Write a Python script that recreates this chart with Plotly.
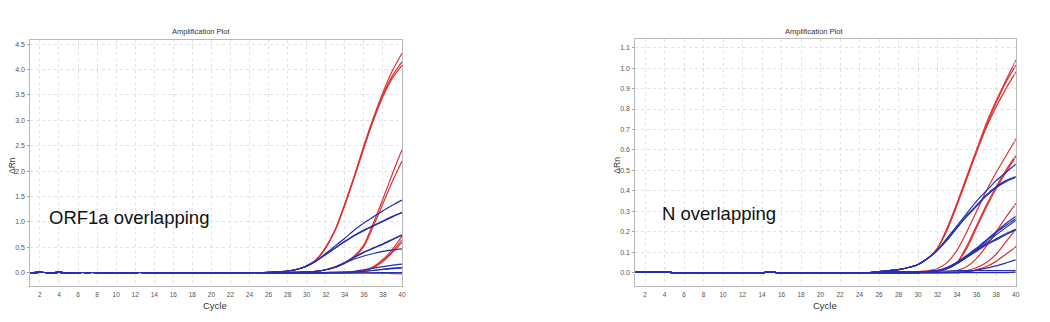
import plotly.graph_objects as go

# ---- data -------------------------------------------------------------
cycles_base = list(range(1, 26))          # flat baseline region
cycles_tail = list(range(26, 41))         # amplification region (cycles 26..40)

# ORF1a assay: baseline readings, then per-curve tails (cycles 26..40)
orf_base = [0.005, 0.01, 0.0, 0.01, 0.0, 0.005, 0.005, 0.005, 0.0, 0.0,
            0.0, 0.005, 0.005, 0.005, 0.005, 0.005, 0.005, 0.005, 0.005, 0.005,
            0.005, 0.005, 0.005, 0.005, 0.005]
orf_red = [
    [0.01, 0.02, 0.035, 0.07, 0.14, 0.26, 0.5, 0.85, 1.35, 1.9, 2.5, 3.05, 3.55, 3.98, 4.32],
    [0.01, 0.02, 0.035, 0.07, 0.14, 0.26, 0.5, 0.85, 1.35, 1.9, 2.48, 3.02, 3.5, 3.88, 4.15],
    [0.01, 0.02, 0.035, 0.07, 0.14, 0.25, 0.49, 0.84, 1.33, 1.88, 2.45, 3.0, 3.47, 3.83, 4.08],
    [0.0, 0.0, 0.005, 0.01, 0.02, 0.03, 0.06, 0.12, 0.2, 0.33, 0.55, 0.98, 1.45, 1.95, 2.42],
    [0.0, 0.0, 0.005, 0.01, 0.02, 0.03, 0.06, 0.11, 0.19, 0.31, 0.52, 0.92, 1.36, 1.8, 2.2],
    [0.0, 0.0, 0.0, 0.0, 0.0, 0.0, 0.005, 0.01, 0.015, 0.02, 0.05, 0.12, 0.26, 0.46, 0.72],
    [0.0, 0.0, 0.0, 0.0, 0.0, 0.0, 0.005, 0.01, 0.015, 0.02, 0.045, 0.11, 0.24, 0.42, 0.65],
    [0.0, 0.0, 0.0, 0.0, 0.0, 0.0, 0.005, 0.01, 0.015, 0.02, 0.04, 0.1, 0.22, 0.4, 0.6],
    [0.0, 0.0, 0.0, 0.0, 0.0, 0.0, 0.0, 0.0, 0.0, 0.0, 0.0, -0.005, -0.01, -0.015, -0.02],
]
orf_blue = [
    [0.01, 0.02, 0.035, 0.07, 0.13, 0.24, 0.38, 0.53, 0.68, 0.84, 0.98, 1.1, 1.22, 1.33, 1.43],
    [0.01, 0.02, 0.035, 0.07, 0.13, 0.23, 0.36, 0.49, 0.62, 0.74, 0.84, 0.93, 1.02, 1.11, 1.19],
    [0.01, 0.02, 0.035, 0.07, 0.13, 0.23, 0.36, 0.49, 0.61, 0.73, 0.83, 0.92, 1.01, 1.1, 1.18],
    [0.0, 0.0, 0.005, 0.01, 0.02, 0.03, 0.06, 0.11, 0.2, 0.31, 0.41, 0.49, 0.57, 0.66, 0.75],
    [0.0, 0.0, 0.005, 0.01, 0.02, 0.03, 0.06, 0.11, 0.2, 0.3, 0.4, 0.48, 0.56, 0.65, 0.74],
    [0.0, 0.0, 0.005, 0.01, 0.02, 0.03, 0.06, 0.11, 0.19, 0.27, 0.33, 0.38, 0.42, 0.45, 0.47],
    [0.0, 0.0, 0.0, 0.0, 0.0, 0.0, 0.005, 0.005, 0.01, 0.03, 0.06, 0.09, 0.12, 0.15, 0.17],
    [0.0, 0.0, 0.0, 0.0, 0.0, 0.0, 0.0, 0.005, 0.005, 0.01, 0.03, 0.05, 0.07, 0.09, 0.1],
    [0.0, 0.0, 0.0, 0.0, 0.0, 0.0, 0.0, 0.005, 0.005, 0.01, 0.025, 0.045, 0.065, 0.08, 0.095],
    [0.0, 0.0, 0.0, 0.0, 0.0, 0.0, 0.0, 0.0, 0.0, 0.0, 0.0, 0.0, 0.005, 0.005, 0.005],
]

# N assay
n_base = [0.002, 0.002, 0.002, 0.002, 0.0, 0.0, 0.0, 0.0, 0.0, 0.0,
          0.0, 0.0, 0.0, 0.0, 0.003, -0.003, 0.0, 0.0, 0.0, 0.0,
          0.0, 0.0, 0.0, 0.0, 0.0]
n_red = [
    [0.005, 0.01, 0.015, 0.025, 0.04, 0.07, 0.12, 0.22, 0.34, 0.47, 0.6, 0.73, 0.84, 0.94, 1.035],
    [0.005, 0.01, 0.015, 0.025, 0.04, 0.07, 0.12, 0.22, 0.34, 0.47, 0.6, 0.72, 0.83, 0.93, 1.012],
    [0.005, 0.01, 0.015, 0.025, 0.04, 0.07, 0.12, 0.21, 0.33, 0.46, 0.59, 0.71, 0.81, 0.9, 0.978],
    [0.0, 0.0, 0.0, 0.0, 0.005, 0.01, 0.02, 0.05, 0.11, 0.2, 0.3, 0.4, 0.49, 0.57, 0.65],
    [0.0, 0.0, 0.0, 0.0, 0.0, 0.005, 0.005, 0.02, 0.05, 0.13, 0.23, 0.33, 0.42, 0.5, 0.572],
    [0.0, 0.0, 0.0, 0.0, 0.0, 0.005, 0.005, 0.02, 0.05, 0.12, 0.22, 0.32, 0.41, 0.49, 0.565],
    [0.0, 0.0, 0.0, 0.0, 0.0, 0.0, 0.0, 0.005, 0.01, 0.03, 0.07, 0.13, 0.2, 0.27, 0.336],
    [0.0, 0.0, 0.0, 0.0, 0.0, 0.0, 0.0, 0.0, 0.005, 0.01, 0.025, 0.05, 0.09, 0.15, 0.21],
    [0.0, 0.0, 0.0, 0.0, 0.0, 0.0, 0.0, 0.0, 0.0, 0.005, 0.015, 0.03, 0.055, 0.09, 0.125],
]
n_blue = [
    [0.005, 0.01, 0.015, 0.025, 0.04, 0.07, 0.11, 0.17, 0.23, 0.29, 0.35, 0.4, 0.45, 0.49, 0.53],
    [0.005, 0.01, 0.015, 0.025, 0.04, 0.07, 0.11, 0.165, 0.22, 0.28, 0.33, 0.38, 0.42, 0.45, 0.47],
    [0.005, 0.01, 0.015, 0.025, 0.04, 0.07, 0.11, 0.16, 0.22, 0.275, 0.325, 0.375, 0.415, 0.445, 0.465],
    [0.0, 0.0, 0.0, 0.0, 0.0, 0.005, 0.01, 0.025, 0.05, 0.085, 0.12, 0.16, 0.2, 0.24, 0.274],
    [0.0, 0.0, 0.0, 0.0, 0.0, 0.005, 0.01, 0.025, 0.05, 0.08, 0.115, 0.155, 0.195, 0.23, 0.263],
    [0.0, 0.0, 0.0, 0.0, 0.0, 0.005, 0.01, 0.02, 0.045, 0.075, 0.11, 0.145, 0.185, 0.22, 0.255],
    [0.0, 0.0, 0.0, 0.0, 0.0, 0.005, 0.01, 0.025, 0.05, 0.08, 0.11, 0.14, 0.165, 0.19, 0.212],
    [0.0, 0.0, 0.0, 0.0, 0.0, 0.005, 0.01, 0.02, 0.045, 0.075, 0.105, 0.135, 0.16, 0.185, 0.208],
    [0.0, 0.0, 0.0, 0.0, 0.0, 0.0, 0.0, 0.0, 0.0, 0.005, 0.012, 0.022, 0.033, 0.047, 0.062],
    [0.005, 0.005, 0.005, 0.005, 0.005, 0.005, 0.008, 0.008, 0.01, 0.01, 0.01, 0.01, 0.01, 0.01, 0.01],
    [0.0, 0.0, 0.0, 0.0, 0.0, 0.0, 0.0, 0.0, 0.0, 0.0, 0.0, 0.0, 0.0, 0.0, 0.002],
]

x_ticks = list(range(2, 41, 2))
orf_y_ticks = [0.0, 0.5, 1.0, 1.5, 2.0, 2.5, 3.0, 3.5, 4.0, 4.5]
n_y_ticks = [0.0, 0.1, 0.2, 0.3, 0.4, 0.5, 0.6, 0.7, 0.8, 0.9, 1.0, 1.1]

RED = "#dc3232"
BLUE = "#2230b0"
NARROW = "Liberation Sans Narrow, Arial Narrow, Liberation Sans, Arial, sans-serif"
SANS = "Liberation Sans, Arial, Helvetica, sans-serif"
W, H = 1050, 322

fig = go.Figure()


def add_curves(base, tails, color, xa, ya, end_marker=False):
    x = cycles_base + cycles_tail
    for tail in tails:
        y = base + tail
        sizes = [0] * (len(x) - 1) + [3]
        fig.add_trace(go.Scatter(
            x=x, y=y, mode="lines+markers" if end_marker else "lines",
            line=dict(color=color, width=1.2, shape="spline", smoothing=0.6),
            marker=dict(size=sizes, color=color, symbol="square"),
            xaxis=xa, yaxis=ya, showlegend=False, hoverinfo="skip"))


add_curves(orf_base, orf_red, RED, "x", "y")
add_curves(orf_base, orf_blue, BLUE, "x", "y")
add_curves(n_base, n_red, RED, "x2", "y2", end_marker=True)
add_curves(n_base, n_blue, BLUE, "x2", "y2")

axis_common = dict(
    showline=True, linecolor="#b8b8b8", linewidth=1, mirror=True,
    showgrid=True, gridcolor="#e2e2e2", griddash="dot", gridwidth=1,
    zeroline=False,
)
x_style = dict(ticks="", ticklabelstandoff=2,
               tickfont=dict(family=NARROW, size=6.5, color="#555555"))
y_style = dict(ticks="outside", ticklen=2, tickcolor="#a0a0a0", ticklabelstandoff=1,
               tickfont=dict(family=NARROW, size=7, color="#555555"))


def px_x(v):
    return v / W


def px_y(v):
    return 1 - v / H


fig.update_layout(
    width=W, height=H, margin=dict(l=0, r=0, t=0, b=0),
    paper_bgcolor="white", plot_bgcolor="white",
    xaxis=dict(domain=[px_x(30.5), px_x(404)], range=[1, 40.05],
               tickvals=x_ticks, anchor="y", **axis_common, **x_style),
    yaxis=dict(domain=[px_y(286), px_y(40)], range=[-0.26, 4.58],
               tickvals=orf_y_ticks, ticktext=[f"{v:.1f}" for v in orf_y_ticks],
               anchor="x", **axis_common, **y_style),
    xaxis2=dict(domain=[px_x(637.7), px_x(1020)], range=[1, 40.05],
                tickvals=x_ticks, anchor="y2", **axis_common, **x_style),
    yaxis2=dict(domain=[px_y(285.7), px_y(39.3)], range=[-0.064, 1.141],
                tickvals=n_y_ticks, ticktext=[f"{v:.1f}" for v in n_y_ticks],
                anchor="x2", **axis_common, **y_style),
)

labels = [
    ("Amplification Plot", 202, 31, 7.5, NARROW, "#333333", 0, "center"),
    ("Amplification Plot", 817, 31, 7.5, NARROW, "#333333", 0, "center"),
    ("Cycle", 216, 305, 9.5, NARROW, "#333333", 0, "center"),
    ("Cycle", 828, 305, 9.5, NARROW, "#333333", 0, "center"),
    ("ΔRn", 12, 165, 8.5, NARROW, "#333333", -90, "center"),
    ("ΔRn", 619, 165, 8.5, NARROW, "#333333", -90, "center"),
    ("ORF1a overlapping", 47, 217, 18.5, SANS, "#111111", 0, "left"),
    ("N overlapping", 663, 213, 18.5, SANS, "#111111", 0, "left"),
]
for text, x, y, size, fam, col, ang, anchor in labels:
    fig.add_annotation(text=text, x=px_x(x), y=px_y(y), xref="paper", yref="paper",
                       xanchor=anchor, yanchor="middle", showarrow=False, textangle=ang,
                       font=dict(family=fam, size=size, color=col))

fig.write_html("out.html")
